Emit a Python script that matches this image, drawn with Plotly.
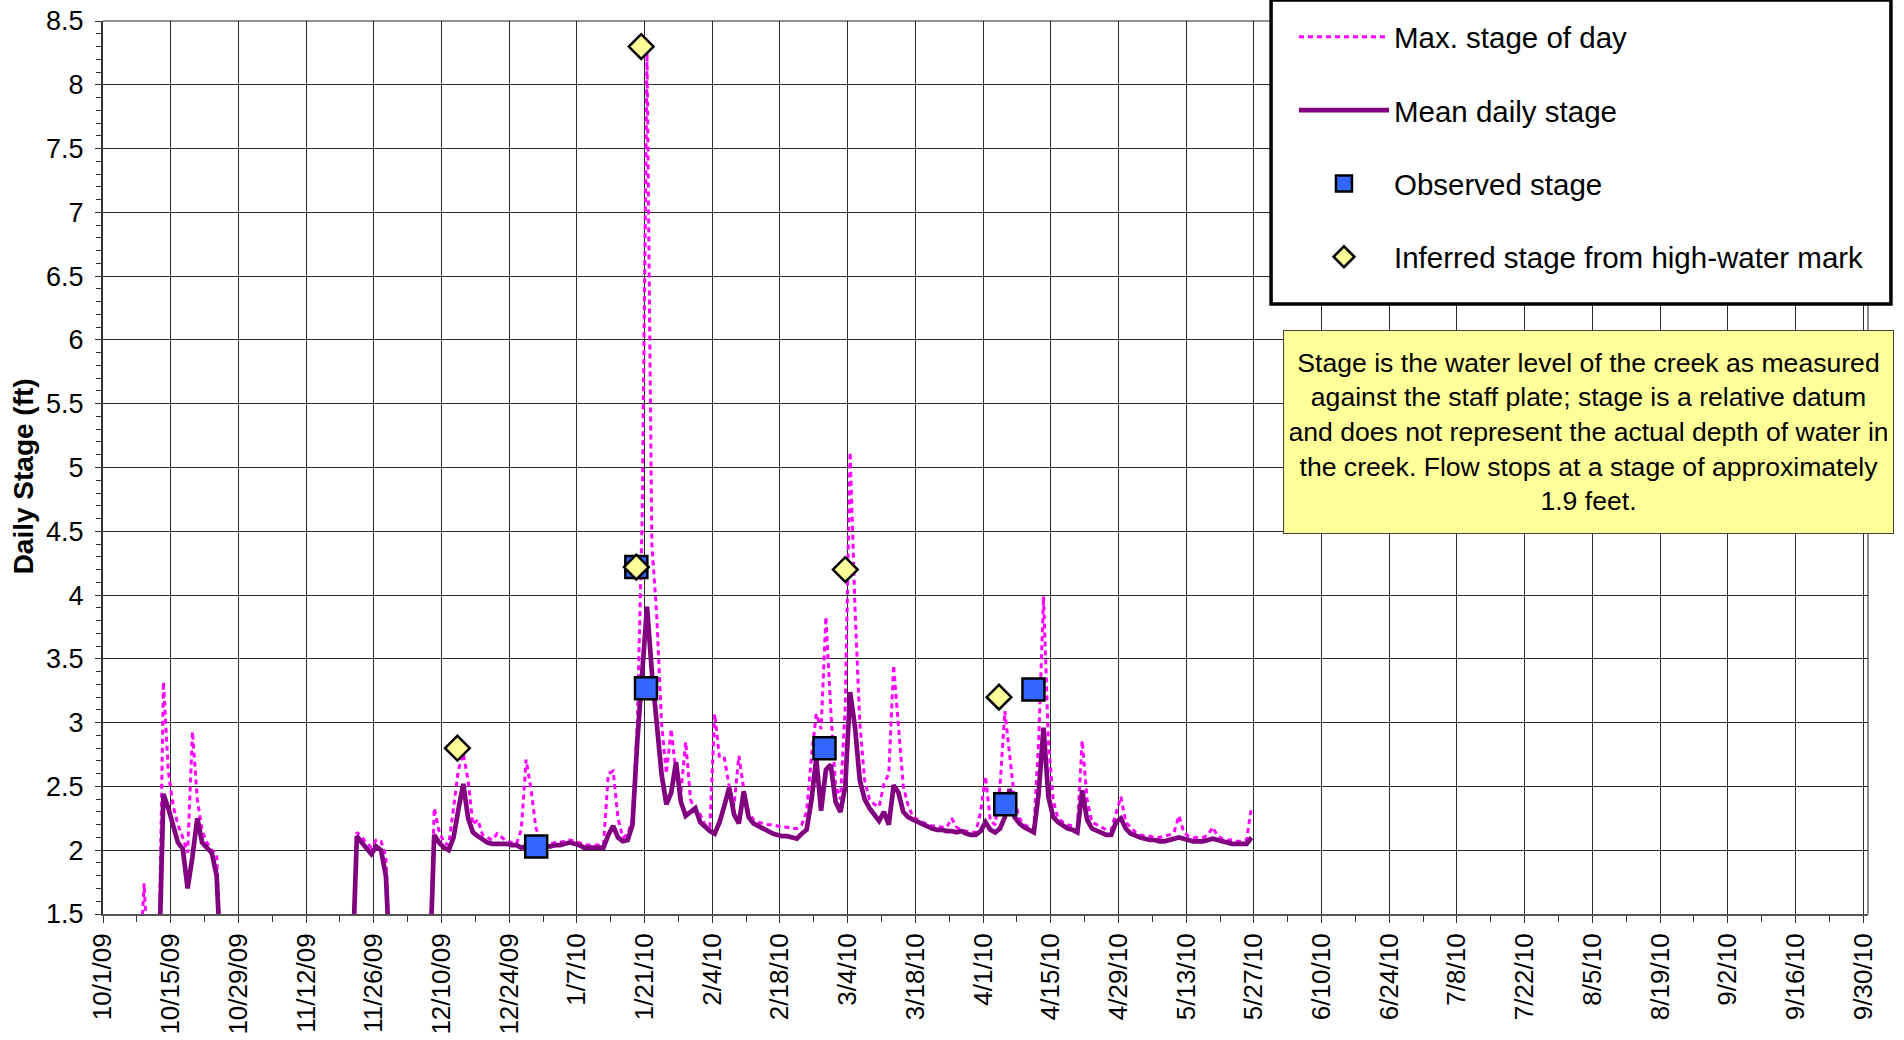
import pandas as pd
import plotly.graph_objects as go

# ---------------- data ----------------
# Daily mean stage (ft), as runs of consecutive days: (first day, values)
mean_run1_start = "2009-10-12 12:00"
mean_run1 = [1.0, 2.44, 2.33, 2.18, 2.06, 2.01, 1.70, 1.95, 2.25, 2.06, 2.02, 1.98, 1.80, 1.0]
mean_run2_start = "2009-11-21 12:00"
mean_run2 = [1.0, 2.11, 2.06, 2.02, 1.97, 2.03, 2.00, 1.80, 1.0]
mean_run3_start = "2009-12-07 12:00"
mean_run3 = [
    1.0, 2.12, 2.06, 2.02, 2.00, 2.10, 2.32, 2.52, 2.25, 2.14,
    2.11, 2.08, 2.06, 2.05, 2.05, 2.05, 2.05, 2.04, 2.04, 2.02,
    2.03, 2.08, 2.09, 2.05, 2.03, 2.03, 2.04, 2.04, 2.05, 2.06,
    2.05, 2.04, 2.02, 2.02, 2.02, 2.02, 2.02, 2.12, 2.19, 2.10,
    2.07, 2.08, 2.20, 2.86, 3.44, 3.91, 3.40, 3.00, 2.60, 2.36,
    2.45, 2.69, 2.38, 2.27, 2.30, 2.33, 2.22, 2.18, 2.15, 2.13,
    2.22, 2.35, 2.49, 2.28, 2.21, 2.46, 2.26, 2.21, 2.19, 2.16,
    2.14, 2.13, 2.12, 2.11, 2.11, 2.10, 2.09, 2.13, 2.16, 2.39,
    2.72, 2.31, 2.63, 2.67, 2.38, 2.30, 2.50, 3.24, 2.97, 2.55,
    2.40, 2.33, 2.28, 2.23, 2.30, 2.20, 2.51, 2.45, 2.30, 2.26,
    2.24, 2.22, 2.20, 2.19, 2.17, 2.16, 2.16, 2.15, 2.15, 2.14,
    2.15, 2.13, 2.12, 2.12, 2.15, 2.22, 2.16, 2.14, 2.17, 2.26,
    2.48, 2.26, 2.21, 2.18, 2.16, 2.14, 2.45, 2.96, 2.42, 2.26,
    2.22, 2.19, 2.17, 2.16, 2.14, 2.47, 2.24, 2.17, 2.15, 2.13,
    2.12, 2.12, 2.22, 2.25, 2.17, 2.13, 2.11, 2.10, 2.09, 2.08,
    2.08, 2.07, 2.07, 2.08, 2.09, 2.10, 2.09, 2.08, 2.07, 2.07,
    2.07, 2.08, 2.09, 2.08, 2.07, 2.06, 2.05, 2.05, 2.05, 2.05,
    2.10, 2.18,
]

# Daily maximum stage (ft), same structure
max_run0_start = "2009-10-08 12:00"
max_run0 = [1.0, 1.74, 1.0]
max_run1_start = "2009-10-12 12:00"
max_run1 = [1.0, 3.32, 2.62, 2.35, 2.20, 2.10, 1.98, 2.93, 2.40, 2.15, 2.06, 2.00, 1.97, 1.0]
max_run2_start = "2009-11-21 12:00"
max_run2 = [1.0, 2.14, 2.10, 2.06, 2.02, 2.08, 2.07, 1.95, 1.0]
max_run3_start = "2009-12-07 12:00"
max_run3 = [
    1.0, 2.33, 2.15, 2.06, 2.04, 2.35, 2.63, 2.76, 2.55, 2.20,
    2.24, 2.12, 2.10, 2.08, 2.13, 2.10, 2.07, 2.06, 2.05, 2.16,
    2.71, 2.48, 2.18, 2.06, 2.05, 2.05, 2.06, 2.06, 2.07, 2.08,
    2.07, 2.06, 2.04, 2.04, 2.04, 2.04, 2.04, 2.60, 2.62, 2.25,
    2.10, 2.12, 2.25, 3.00, 4.60, 8.25, 4.40, 3.85, 3.00, 2.60,
    2.95, 2.60, 2.45, 2.85, 2.40, 2.30, 2.28, 2.20, 2.18, 3.07,
    2.72, 2.72, 2.50, 2.35, 2.74, 2.48, 2.30, 2.24, 2.22, 2.21,
    2.20, 2.20, 2.19, 2.18, 2.18, 2.17, 2.17, 2.20, 2.30, 2.73,
    3.07, 2.95, 3.83, 3.10, 2.50, 2.40, 3.13, 5.12, 3.91, 3.00,
    2.55, 2.40, 2.36, 2.34, 2.52, 2.60, 3.45, 2.97, 2.50, 2.35,
    2.26, 2.24, 2.22, 2.20, 2.19, 2.19, 2.18, 2.18, 2.25, 2.18,
    2.16, 2.15, 2.14, 2.14, 2.30, 2.58, 2.23, 2.20, 2.50, 3.09,
    2.73, 2.40, 2.25, 2.20, 2.18, 2.17, 2.86, 3.99, 2.86, 2.39,
    2.25, 2.22, 2.20, 2.19, 2.19, 2.86, 2.40, 2.22, 2.20, 2.18,
    2.16, 2.16, 2.30, 2.42, 2.22, 2.18, 2.14, 2.12, 2.11, 2.11,
    2.10, 2.10, 2.11, 2.12, 2.14, 2.27, 2.14, 2.11, 2.10, 2.10,
    2.10, 2.12, 2.18, 2.11, 2.09, 2.08, 2.08, 2.07, 2.07, 2.08,
    2.34, 2.46,
]

# Observed stage readings
obs_dates = ["2009-12-29 14:00", "2010-01-19 07:00", "2010-01-21 07:00",
             "2010-02-27 05:00", "2010-04-05 14:00", "2010-04-11 10:00"]
obs_stage = [2.03, 4.22, 3.27, 2.80, 2.36, 3.26]

# Inferred stage from high-water marks
hwm_dates = ["2009-12-13 07:00", "2010-01-19 07:00", "2010-01-20 07:00",
             "2010-03-03 12:00", "2010-04-04 07:00"]
hwm_stage = [2.80, 4.22, 8.30, 4.20, 3.20]

period_start, period_end = "2009-10-01", "2010-10-01"

note_text = ("Stage is the water level of the creek as measured<br>"
             "against the staff plate; stage is a relative datum<br>"
             "and does not represent the actual depth of water in<br>"
             "the creek. Flow stops at a stage of approximately<br>"
             "1.9 feet.")

# ---------------- build daily series (gaps = no record) ----------------
def run(start, vals):
    return pd.Series(vals, index=pd.date_range(start, periods=len(vals), freq="D"))

daily_index = pd.date_range("2009-10-08 12:00", "2010-05-26 12:00", freq="D")
mean_s = pd.concat([run(mean_run1_start, mean_run1), run(mean_run2_start, mean_run2),
                    run(mean_run3_start, mean_run3)]).reindex(daily_index)
max_s = pd.concat([run(max_run0_start, max_run0), run(max_run1_start, max_run1),
                   run(max_run2_start, max_run2), run(max_run3_start, max_run3)]).reindex(daily_index)

FONT = "Liberation Sans, Arial, sans-serif"

fig = go.Figure()
fig.add_trace(go.Scatter(
    x=max_s.index, y=max_s.values, mode="lines", name="Max. stage of day",
    legendgroup="a", line=dict(color="#FF00FF", width=3, dash="5px,4px"),
    connectgaps=False))
fig.add_trace(go.Scatter(
    x=mean_s.index, y=mean_s.values, mode="lines", name="Mean daily stage",
    legendgroup="b", line=dict(color="#800080", width=4.7), connectgaps=False))
fig.add_trace(go.Scatter(
    x=pd.to_datetime(obs_dates), y=obs_stage, mode="markers", name="Observed stage",
    legendgroup="c",
    marker=dict(symbol="square", size=22, color="#3366FF", line=dict(color="black", width=2.5))))
fig.add_trace(go.Scatter(
    x=pd.to_datetime(hwm_dates), y=hwm_stage, mode="markers",
    name="Inferred stage from high-water mark", legendgroup="d",
    marker=dict(symbol="diamond", size=19, color="#FFFF99", line=dict(color="black", width=2.5))))

DAY = 86400000
fig.update_xaxes(
    type="date", range=[period_start, period_end], automargin=False,
    tick0=period_start, dtick=14 * DAY, tickformat="%-m/%-d/%y", tickangle=-90,
    ticks="outside", ticklen=7, tickwidth=1, tickcolor="#333",
    showgrid=True, gridcolor="#2a2a2a", gridwidth=1,
    showline=True, linecolor="#555", linewidth=2, zeroline=False,
    tickfont=dict(family=FONT, size=26, color="black"), ticklabelstandoff=0,
    minor=dict(dtick=7 * DAY, tick0=period_start, ticks="outside", ticklen=6,
               tickcolor="#333", showgrid=False),
)
fig.update_yaxes(
    range=[1.5, 8.5], tick0=1.5, dtick=0.5, automargin=False,
    ticks="outside", ticklen=6, tickwidth=1, tickcolor="#333",
    showgrid=True, gridcolor="#2a2a2a", gridwidth=1,
    showline=True, linecolor="#333", linewidth=2, zeroline=False,
    tickfont=dict(family=FONT, size=27, color="black"), ticklabelstandoff=6,
    minor=dict(dtick=0.1, ticks="outside", ticklen=5, tickcolor="#333", showgrid=False),
)

# top / right frame of plot area (gray)
fig.add_shape(type="path", xref="paper", yref="paper", path="M 0 1 L 1 1 L 1 0",
              line=dict(color="#909090", width=2), layer="below")

# legend frame (white box with heavy black border)
fig.add_shape(type="rect", xref="paper", yref="paper",
              x0=0.6618, x1=1.0130, y0=0.6831, y1=1.0235,
              fillcolor="white", line=dict(color="black", width=3.5), layer="above")

fig.add_annotation(
    text="<b>Daily Stage (ft)</b>", textangle=-90, xref="paper", yref="paper",
    x=-0.0448, y=0.49, xanchor="center", yanchor="middle", showarrow=False,
    font=dict(family=FONT, size=28, color="black"))

fig.add_annotation(
    text=note_text, xref="paper", yref="paper", x=0.8417, y=0.5398,
    xanchor="center", yanchor="middle", showarrow=False, align="center",
    width=597, height=190, bgcolor="#FFFF99", bordercolor="#404040",
    borderwidth=1, borderpad=6, font=dict(family=FONT, size=26.6, color="black"))

fig.update_layout(
    width=1904, height=1040,
    margin=dict(l=103, r=36, t=21, b=126, autoexpand=False),
    plot_bgcolor="white", paper_bgcolor="white",
    font=dict(family=FONT, color="black"),
    showlegend=True,
    legend=dict(xref="container", yref="container", x=0.6796, y=0.9894,
                xanchor="left", yanchor="top",
                bgcolor="rgba(0,0,0,0)", borderwidth=0,
                font=dict(family=FONT, size=29.5, color="black"),
                tracegroupgap=32, itemwidth=90),
)

fig.write_html("out.html", config={"displayModeBar": False},
               post_script="document.body.style.margin='0';document.body.style.overflow='hidden';")
